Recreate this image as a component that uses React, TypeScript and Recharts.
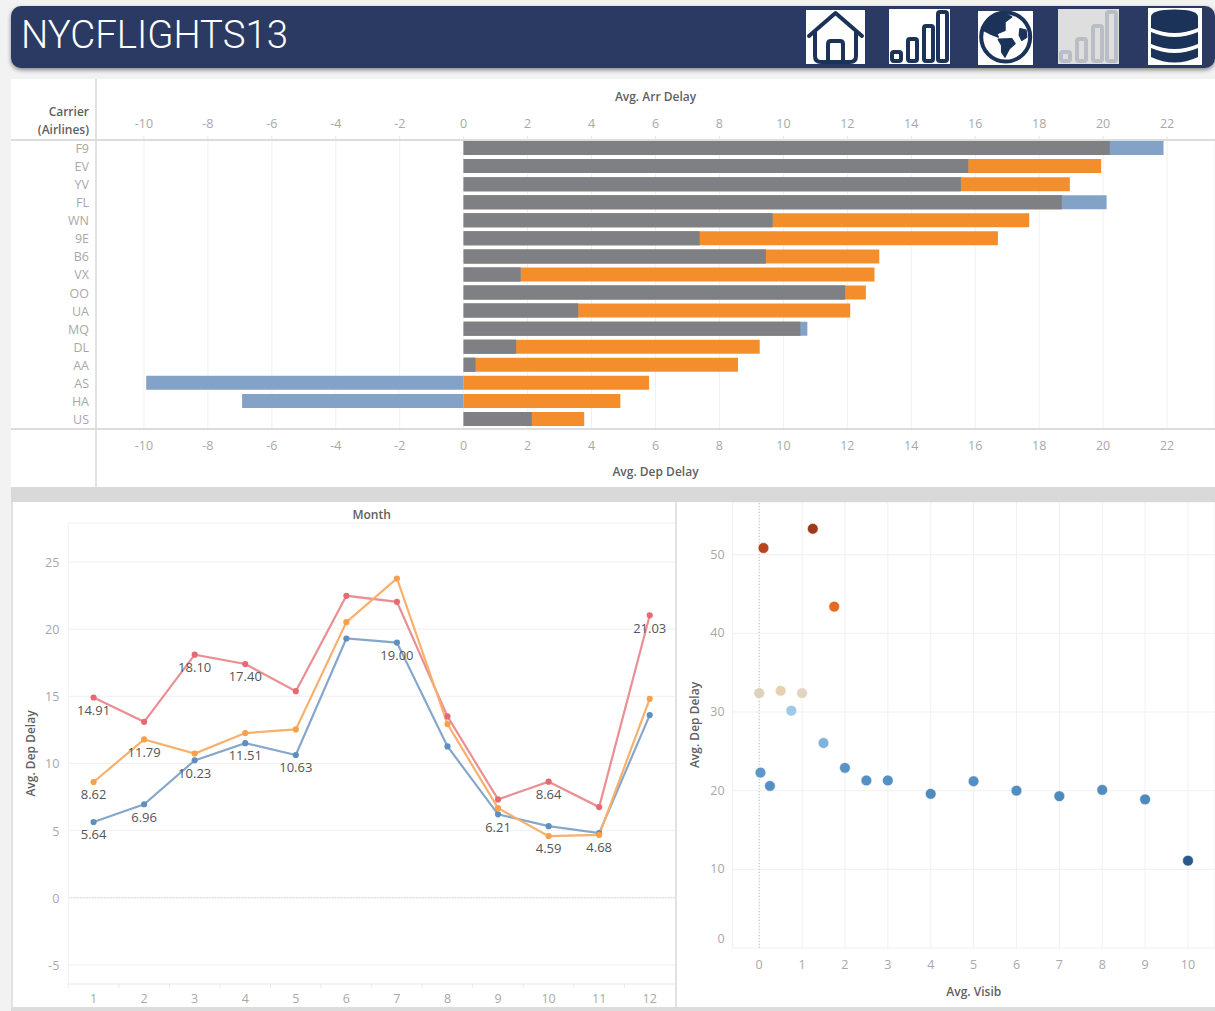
import React from 'react';
import {
  BarChart,
  Bar,
  LineChart,
  Line,
  ScatterChart,
  Scatter,
  Cell,
  LabelList,
  XAxis,
  YAxis,
  CartesianGrid,
  ReferenceLine,
} from 'recharts';

// carrier bars
const carriers = ['F9', 'EV', 'YV', 'FL', 'WN', '9E', 'B6', 'VX', 'OO', 'UA', 'MQ', 'DL', 'AA', 'AS', 'HA', 'US'];
const arrDelay = [21.89, 15.78, 15.55, 20.11, 9.66, 7.38, 9.45, 1.78, 11.93, 3.58, 10.75, 1.64, 0.37, -9.93, -6.93, 2.13];
const depDelay = [20.21, 19.94, 18.96, 18.71, 17.69, 16.71, 13.0, 12.85, 12.58, 12.09, 10.53, 9.26, 8.58, 5.8, 4.9, 3.77];
const delayTicks = [-10, -8, -6, -4, -2, 0, 2, 4, 6, 8, 10, 12, 14, 16, 18, 20, 22];

// monthly lines
const months = [1, 2, 3, 4, 5, 6, 7, 8, 9, 10, 11, 12];
const redLine = [14.91, 13.1, 18.1, 17.4, 15.38, 22.48, 22.03, 13.5, 7.32, 8.64, 6.75, 21.03];
const orangeLine = [8.62, 11.79, 10.74, 12.26, 12.53, 20.52, 23.77, 12.93, 6.67, 4.59, 4.68, 14.81];
const blueLine = [5.64, 6.96, 10.23, 11.51, 10.63, 19.3, 19.0, 11.27, 6.21, 5.33, 4.81, 13.6];
const redLabels = ['14.91', null, '18.10', '17.40', null, null, null, null, null, '8.64', null, '21.03'];
const orangeLabels = ['8.62', '11.79', null, null, null, null, null, null, null, '4.59', '4.68', null];
const blueLabels = ['5.64', '6.96', '10.23', '11.51', '10.63', null, '19.00', null, '6.21', null, null, null];
const monthTicks = [-5, 0, 5, 10, 15, 20, 25];

// visibility scatter
const visib = [1.25, 0.1, 1.75, 0, 0.5, 1, 0.75, 1.5, 0.03, 0.25, 2, 2.5, 3, 4, 5, 6, 7, 8, 9, 10];
const visibDelay = [53.3, 50.85, 43.4, 32.4, 32.7, 32.4, 30.17, 26.06, 22.3, 20.6, 22.9, 21.3, 21.3, 19.6, 21.2, 20.0, 19.3, 20.1, 18.9, 11.1];
const visibColors = [
  '#9c3a1c', '#b5461f', '#e96a1e', '#dfd2bd', '#e6d0b0', '#dfd5c0', '#9ccbe6', '#7fb4da', '#5f98c8', '#5690c2',
  '#5a94c4', '#5690c2', '#5690c2', '#518bbd', '#5690c2', '#528dbf', '#4f89bb', '#528dbf', '#4f88ba', '#285a8c',
];
const visibTicksX = [0, 1, 2, 3, 4, 5, 6, 7, 8, 9, 10];
const visibTicksY = [0, 10, 20, 30, 40, 50];

const carrierRows = carriers.map((carrier, i) => ({
  carrier,
  arr: arrDelay[i],
  dep: depDelay[i],
  // grey is where both bars cover each other
  both: arrDelay[i] > 0 ? Math.min(arrDelay[i], depDelay[i]) : 0,
}));
const monthRows = months.map((month, i) => ({
  month,
  red: redLine[i],
  orange: orangeLine[i],
  blue: blueLine[i],
  redLabel: redLabels[i],
  orangeLabel: orangeLabels[i],
  blueLabel: blueLabels[i],
}));
const visibRows = visib.map((x, i) => ({ x, y: visibDelay[i] }));

const FONT = '"Open Sans", sans-serif';
const NAVY = '#1b3358';
const TICK = { fontSize: 12.5, fill: '#a8a8a8', fontFamily: FONT };
const TITLE = { fontSize: 12, fill: '#5f5f5f', fontFamily: FONT, fontWeight: 600 };
const GRID = '#f0f0f0';
const ROTATED = { style: { textAnchor: 'middle' as const } };

const MonthTick = ({ x, y, payload }: any) => (
  <g>
    <line x1={x - 25.3} x2={x - 25.3} y1={y - 8} y2={y - 4} stroke="#e8e8e8" />
    <text x={x} y={y + 11} textAnchor="middle" {...TICK}>
      {payload.value}
    </text>
  </g>
);

const CarrierTick = ({ x, y, payload }: any) => (
  <text x={x} y={y + 5} textAnchor="end" {...TICK}>
    {payload.value}
  </text>
);

const MonthYTick = ({ x, y, payload }: any) => (
  <text x={x} y={y + 5} textAnchor="end" {...TICK}>
    {payload.value}
  </text>
);

// Tableau pushes the bottom label up so it stays inside the pane
const VisibTick = ({ x, y, payload }: any) => (
  <text x={x} y={payload.value === 0 ? y - 5 : y + 4} textAnchor="end" {...TICK}>
    {payload.value}
  </text>
);

const VisibDot = ({ cx, cy, fill }: any) => <circle cx={cx} cy={cy} r={5.4} fill={fill} stroke="#fff" strokeWidth={0.6} />;

function HomeIcon() {
  return (
    <svg style={{ position: 'absolute', left: 806, top: 10, background: '#fff' }} width={59} height={54} viewBox="0 0 59 54">
      <g fill="none" stroke={NAVY} strokeWidth={4} strokeLinecap="round" strokeLinejoin="round">
        <path d="M3 26 L29.5 3 L56 26" />
        <path d="M9 22 V46 Q9 52 15 52 H44 Q50 52 50 46 V22" />
        <path d="M22 52 V34 Q22 31 25 31 H34 Q37 31 37 34 V52" />
      </g>
    </svg>
  );
}

function BarsIcon({ left, top, bg, color }: { left: number; top: number; bg: string; color: string }) {
  return (
    <svg style={{ position: 'absolute', left, top, background: bg }} width={61} height={55} viewBox="0 0 61 55">
      <g fill="none" stroke={color} strokeWidth={4}>
        <rect x={3} y={43} width={9} height={9} rx={2} />
        <rect x={19} y={30} width={9} height={22} rx={2} />
        <rect x={35} y={17} width={9} height={35} rx={2} />
        <rect x={49} y={3} width={9} height={49} rx={2} />
      </g>
    </svg>
  );
}

function GlobeIcon() {
  return (
    <svg style={{ position: 'absolute', left: 978, top: 11, background: '#fff' }} width={55} height={54} viewBox="0 0 55 54">
      <circle cx={27.7} cy={26} r={24.5} fill="#fff" stroke={NAVY} strokeWidth={4} />
      <g fill={NAVY} stroke={NAVY} strokeWidth={1.5} strokeLinejoin="round">
        <path d="M5.3 19.3 L12 7.7 L25.3 2 L33.7 6 L27 11 L27 19.3 L18.7 22.7 L20.3 26 L12 22.7 Z" />
        <path d="M42 17.7 L48 19.3 L48.7 26 L43.7 29.3 L41.3 24.3 Z" />
        <path d="M20.3 28.3 L33.7 27.7 L37 32.7 L31.3 37.7 L27 46 L23.7 41 L23.7 34.3 Z" />
      </g>
    </svg>
  );
}

function DbIcon() {
  return (
    <svg style={{ position: 'absolute', left: 1148, top: 8, background: '#fff' }} width={54} height={57} viewBox="0 0 54 57">
      <path d="M3 9 Q3 1.5 26.5 1.5 Q50 1.5 50 9 V20 Q26.5 30 3 20 Z" fill={NAVY} />
      <path d="M3 24 Q26.5 34 50 24 V36 Q26.5 46 3 36 Z" fill={NAVY} />
      <path d="M3 40 Q26.5 50 50 40 V49 Q26.5 60 3 49 Z" fill={NAVY} />
    </svg>
  );
}

export default function App() {
  return (
    <div
      style={{
        position: 'absolute',
        left: 0,
        top: 0,
        width: 1215,
        height: 1011,
        background: '#f2f2f2',
        overflow: 'hidden',
        fontFamily: FONT,
      }}
    >
      {/* header */}
      <div
        style={{
          position: 'absolute',
          left: 11,
          top: 6,
          width: 1204,
          height: 62,
          background: '#2b3a63',
          borderRadius: 10,
          boxShadow: '0 2px 4px rgba(0,0,0,0.45)',
        }}
      />
      <div
        style={{
          position: 'absolute',
          left: 21,
          top: 12,
          color: '#fff',
          fontFamily: 'Roboto, sans-serif',
          fontWeight: 300,
          fontSize: 38.4,
          lineHeight: '46px',
        }}
      >
        NYCFLIGHTS13
      </div>
      <HomeIcon />
      <BarsIcon left={889} top={9} bg="#fff" color={NAVY} />
      <GlobeIcon />
      <BarsIcon left={1058} top={9} bg="#dedede" color="#b9bec6" />
      <DbIcon />

      {/* carrier panel */}
      <div style={{ position: 'absolute', left: 11, top: 79, width: 1204, height: 408, background: '#fff' }}>
        <BarChart
          width={1204}
          height={408}
          data={carrierRows}
          layout="vertical"
          margin={{ top: 0, right: 0, bottom: 0, left: 0 }}
          barSize={14}
          barGap={-14}
        >
          <CartesianGrid xAxisId="bottom" horizontal={false} stroke={GRID} />
          <XAxis
            xAxisId="top"
            orientation="top"
            type="number"
            domain={[-11.5, 23.5]}
            ticks={delayTicks}
            interval={0}
            height={60}
            axisLine={false}
            tickSize={3}
            tickLine={{ stroke: '#e8e8e8' }}
            tickMargin={8}
            tick={TICK}
            label={{ value: 'Avg. Arr Delay', position: 'insideTop', offset: 13, ...TITLE }}
          />
          <XAxis
            xAxisId="bottom"
            orientation="bottom"
            type="number"
            domain={[-11.5, 23.5]}
            ticks={delayTicks}
            interval={0}
            height={59}
            axisLine={false}
            tickLine={false}
            tickMargin={7}
            tick={TICK}
            label={{ value: 'Avg. Dep Delay', position: 'insideBottom', offset: 11, ...TITLE }}
          />
          <YAxis
            type="category"
            dataKey="carrier"
            width={85}
            axisLine={false}
            tickLine={false}
            tickMargin={1}
            interval={0}
            tick={<CarrierTick />}
          />
          <Bar xAxisId="bottom" dataKey="dep" fill="#f48e2c" isAnimationActive={false} />
          <Bar xAxisId="top" dataKey="arr" fill="#82a2c8" isAnimationActive={false} />
          <Bar xAxisId="bottom" dataKey="both" fill="#7f8084" isAnimationActive={false} />
        </BarChart>
        {/* pane borders */}
        <div style={{ position: 'absolute', left: 84, top: 0, width: 1.5, height: 408, background: '#e2e2e2' }} />
        <div style={{ position: 'absolute', left: 0, top: 60, width: 1204, height: 1.5, background: '#dcdcdc' }} />
        <div style={{ position: 'absolute', left: 0, top: 349, width: 1204, height: 1.5, background: '#dcdcdc' }} />
        <div
          style={{
            position: 'absolute',
            right: 1126,
            top: 24,
            textAlign: 'right',
            fontSize: 12,
            lineHeight: '18px',
            fontWeight: 600,
            color: '#5f5f5f',
            whiteSpace: 'nowrap',
          }}
        >
          Carrier
          <br />
          (Airlines)
        </div>
      </div>

      {/* grey band between rows */}
      <div style={{ position: 'absolute', left: 11, top: 487, width: 1204, height: 15, background: '#d9d9d9' }} />
      <div style={{ position: 'absolute', left: 11, top: 1007, width: 1204, height: 4, background: '#dcdcdc' }} />
      <div style={{ position: 'absolute', left: 11, top: 502, width: 2, height: 505, background: '#e2e2e2' }} />

      {/* month panel */}
      <div style={{ position: 'absolute', left: 13, top: 502, width: 662, height: 505, background: '#fff' }}>
        <LineChart width={662} height={505} data={monthRows} margin={{ top: 0, right: 0, bottom: 0, left: 0 }}>
          <CartesianGrid xAxisId="month" vertical={false} stroke={GRID} />
          <XAxis
            xAxisId="title"
            orientation="top"
            type="number"
            domain={[0.5, 12.5]}
            height={21}
            tick={false}
            axisLine={false}
            tickLine={false}
            label={{ value: 'Month', position: 'insideTop', offset: 8, ...TITLE }}
          />
          <XAxis
            xAxisId="month"
            dataKey="month"
            type="number"
            domain={[0.5, 12.5]}
            ticks={months}
            interval={0}
            height={23}
            axisLine={{ stroke: '#f0f0f0' }}
            tickLine={false}
            tick={<MonthTick />}
          />
          <YAxis
            type="number"
            domain={[-6.42, 27.9]}
            ticks={monthTicks}
            interval={0}
            width={55.3}
            axisLine={{ stroke: '#f0f0f0' }}
            tickLine={false}
            tickMargin={3}
            tick={<MonthYTick />}
            label={{ value: 'Avg. Dep Delay', angle: -90, position: 'insideLeft', offset: 18, ...ROTATED, ...TITLE }}
          />
          <ReferenceLine xAxisId="month" y={0} stroke="#c4c4c4" strokeDasharray="1 2" />
          <Line
            xAxisId="month"
            dataKey="red"
            stroke="#ea8f94"
            strokeWidth={2.2}
            dot={{ r: 2, fill: '#e56a74', stroke: '#e56a74' }}
            isAnimationActive={false}
          >
            <LabelList dataKey="redLabel" position="bottom" offset={8} fontSize={13} fill="#555" fontFamily={FONT} />
          </Line>
          <Line
            xAxisId="month"
            dataKey="blue"
            stroke="#86a7cc"
            strokeWidth={2.2}
            dot={{ r: 2, fill: '#5f8fbf', stroke: '#5f8fbf' }}
            isAnimationActive={false}
          >
            <LabelList dataKey="blueLabel" position="bottom" offset={8} fontSize={13} fill="#555" fontFamily={FONT} />
          </Line>
          <Line
            xAxisId="month"
            dataKey="orange"
            stroke="#f8b06c"
            strokeWidth={2.2}
            dot={{ r: 2, fill: '#f8a04a', stroke: '#f8a04a' }}
            isAnimationActive={false}
          >
            <LabelList dataKey="orangeLabel" position="bottom" offset={8} fontSize={13} fill="#555" fontFamily={FONT} />
          </Line>
        </LineChart>
      </div>
      <div style={{ position: 'absolute', left: 675, top: 502, width: 2, height: 505, background: '#e2e2e2' }} />
      <div style={{ position: 'absolute', left: 677, top: 502, width: 2, height: 505, background: '#fff' }} />

      {/* visibility panel */}
      <div style={{ position: 'absolute', left: 679, top: 502, width: 536, height: 505, background: '#fff' }}>
        <ScatterChart width={536} height={505} margin={{ top: 0, right: 0, bottom: 0, left: 0 }}>
          <CartesianGrid stroke={GRID} />
          <XAxis
            type="number"
            dataKey="x"
            domain={[-0.62, 10.63]}
            ticks={visibTicksX}
            interval={0}
            height={59}
            axisLine={false}
            tickLine={false}
            tickMargin={6}
            tick={TICK}
            label={{ value: 'Avg. Visib', position: 'insideBottom', offset: 11, ...TITLE }}
          />
          <YAxis
            type="number"
            dataKey="y"
            domain={[0, 56.7]}
            ticks={visibTicksY}
            interval={0}
            width={53.6}
            axisLine={false}
            tickLine={false}
            tick={<VisibTick />}
            label={{ value: 'Avg. Dep Delay', angle: -90, position: 'insideLeft', offset: 16, ...ROTATED, ...TITLE }}
          />
          <ReferenceLine x={0} stroke="#c4c4c4" strokeDasharray="1 2" />
          <Scatter data={visibRows} shape={<VisibDot />} isAnimationActive={false}>
            {visibRows.map((row, i) => (
              <Cell key={row.x} fill={visibColors[i]} />
            ))}
          </Scatter>
        </ScatterChart>
      </div>
    </div>
  );
}
